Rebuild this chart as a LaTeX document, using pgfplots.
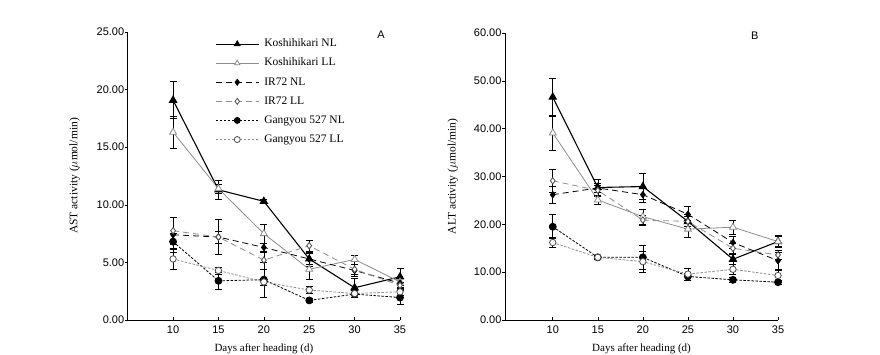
\documentclass[border=0pt]{standalone}
\usepackage{pgfplots}
\pgfplotsset{compat=1.18}
\usepackage{pgfplotstable}
\usepackage{fontspec}
\setmainfont{Liberation Serif}
\newfontfamily\arial{Liberation Sans}
\newcommand\lf{\fontsize{11.5}{13}\selectfont}
\newcommand\yf{\fontsize{11.5}{13}\selectfont}
\definecolor{lgray}{gray}{0.55}

\pgfplotstableread{
x  kn    kne  kl    kle  in   ine  il   ile  gn   gne  gl   gle
10 19.08 1.6  16.3  1.4  7.4  1.5  7.75 1.2  6.8  0.7  5.3  0.9
15 11.3  0.8  11.4  0.4  7.2  0.5  7.2  1.5  3.4  0.7  4.3  0.3
20 10.3  0.2  7.5   0.8  6.3  0.4  5.2  0.8  3.5  1.5  3.3  0.3
25 5.3   0.6  4.4   0.9  5.3  0.5  6.45 0.5  1.7  0.2  2.6  0.3
30 2.8   0.8  5.26  0.4  4.3  0.5  4.4  0.4  2.25 0.3  2.3  0.3
35 3.75  0.7  3.3   0.3  3.2  0.4  3.0  0.3  1.95 0.6  2.45 0.3
}\astdata
\pgfplotstableread{
x  kn    kne  kl    kle  in   ine  il   ile  gn   gne  gl   gle
10 46.6  4.0  39.1  3.7  26.2 1.8  29.1 2.4  19.5 2.5  16.2 1.0
15 27.7  1.8  25.1  1.0  27.6 1.0  27.1 1.0  13.1 0.5  13.1 0.4
20 27.9  2.7  21.6  1.5  26.2 1.5  20.9 1.0  13.1 2.5  12.2 2.2
25 20.6  1.5  19.0  1.8  22.1 1.6  20.6 1.0  9.1  0.7  9.6  1.3
30 12.7  1.0  19.4  1.5  16.2 1.3  15.0 1.0  8.4  0.5  10.6 1.0
35 16.4  1.3  16.4  1.0  12.4 1.7  13.6 1.0  7.9  0.4  9.3  1.0
}\altdata

\pgfplotsset{
  panel/.style={
    scale only axis,
    axis x line*=bottom, axis y line*=left,
    xmax=35,
    xtick={10,15,20,25,30,35},
    tick align=inside,
    major tick length=3pt,
    ytick style={xshift=-3pt},
    tick style={black, line width=0.6pt},
    axis line style={black, line width=0.7pt},
    /pgf/number format/assume math mode=true,
    tick label style={font=\arial\fontsize{11}{13}\selectfont},
    xticklabel style={yshift=-2pt},
    yticklabel style={/pgf/number format/.cd, fixed, fixed zerofill, precision=2},
    ylabel style={font=\yf},
    xlabel style={font=\fontsize{11}{13}\selectfont},
    xlabel={Days after heading (d)},
    xlabel shift=4pt,
    clip=false,
    every axis plot/.append style={
      error bars/y dir=both, error bars/y explicit,
      error bars/error bar style={black, solid, line width=0.6pt},
      error bars/error mark options={black, solid, rotate=90, mark size=3.5pt, line width=0.6pt}
    },
  },
  sKN/.style={black, solid, line width=1.1pt, mark=triangle*, mark size=4pt, mark options={solid, fill=black}},
  sKL/.style={lgray, solid, line width=0.8pt, mark=triangle*, mark size=4pt, mark options={solid, fill=white, draw=lgray}},
  sIN/.style={black, dash pattern=on 6pt off 4pt, line width=0.8pt, mark=diamond*, mark size=3.2pt, mark options={solid, fill=black}},
  sIL/.style={lgray, dash pattern=on 6pt off 4pt, line width=0.8pt, mark=diamond*, mark size=3.2pt, mark options={solid, fill=white, draw=black!70}},
  sGN/.style={black, dash pattern=on 2.5pt off 1.5pt, line width=0.8pt, mark=*, mark size=3.5pt, mark options={solid, fill=black}},
  sGL/.style={lgray, dash pattern=on 2.5pt off 1.5pt, line width=0.8pt, mark=*, mark size=3.2pt, mark options={solid, fill=white, draw=black!70}},
}

\begin{document}
\begin{tikzpicture}
\useasboundingbox (0pt,0pt) rectangle (880pt,354pt);
\begin{axis}[panel,
  at={(127.7pt,34pt)}, anchor=origin,
  xmin=5, ymin=0, ymax=25,
  width=272.3pt, height=288pt,
  ytick={0,5,10,15,20,25},
  ylabel={\yf AST activity ($\mu$mol/min)},
  ylabel shift=10pt,
  legend style={draw=none, fill=none, at={(0.317,0.984)}, anchor=north west,
    font=\lf, row sep=6.6pt, inner sep=1pt,
    nodes={inner sep=1pt, text height=8pt, text depth=2.5pt},
    /tikz/every odd column/.append style={column sep=4pt}},
  legend cell align=left,
  legend image code/.code={\draw[mark repeat=2, mark phase=2, mark size=3pt, #1] plot coordinates {(0pt,0pt) (21.5pt,0pt) (43pt,0pt)};},
]
\addplot[sKN] table[x=x, y=kn, y error=kne] {\astdata};
\addplot[sKL] table[x=x, y=kl, y error=kle] {\astdata};
\addplot[sIN] table[x=x, y=in, y error=ine] {\astdata};
\addplot[sIL] table[x=x, y=il, y error=ile] {\astdata};
\addplot[sGN] table[x=x, y=gn, y error=gne] {\astdata};
\addplot[sGL] table[x=x, y=gl, y error=gle] {\astdata};
\legend{{\lf Koshihikari NL}, {\lf Koshihikari LL}, {\lf IR72 NL}, {\lf IR72 LL}, {\lf Gangyou 527 NL}, {\lf Gangyou 527 LL}}
\node[font=\arial\fontsize{11}{12}\selectfont] at (rel axis cs:0.93,0.99) {A};
\end{axis}
\begin{axis}[panel,
  at={(505pt,34pt)}, anchor=origin,
  xmin=4.7, ymin=0, ymax=60,
  width=273pt, height=287pt,
  ytick={0,10,20,30,40,50,60},
  ylabel={\yf ALT activity ($\mu$mol/min)},
  ylabel shift=9pt,
]
\addplot[sKN] table[x=x, y=kn, y error=kne] {\altdata};
\addplot[sKL] table[x=x, y=kl, y error=kle] {\altdata};
\addplot[sIN] table[x=x, y=in, y error=ine] {\altdata};
\addplot[sIL] table[x=x, y=il, y error=ile] {\altdata};
\addplot[sGN] table[x=x, y=gn, y error=gne] {\altdata};
\addplot[sGL] table[x=x, y=gl, y error=gle] {\altdata};
\node[font=\arial\fontsize{11}{12}\selectfont] at (rel axis cs:0.915,0.99) {B};
\end{axis}
\end{tikzpicture}
\end{document}
